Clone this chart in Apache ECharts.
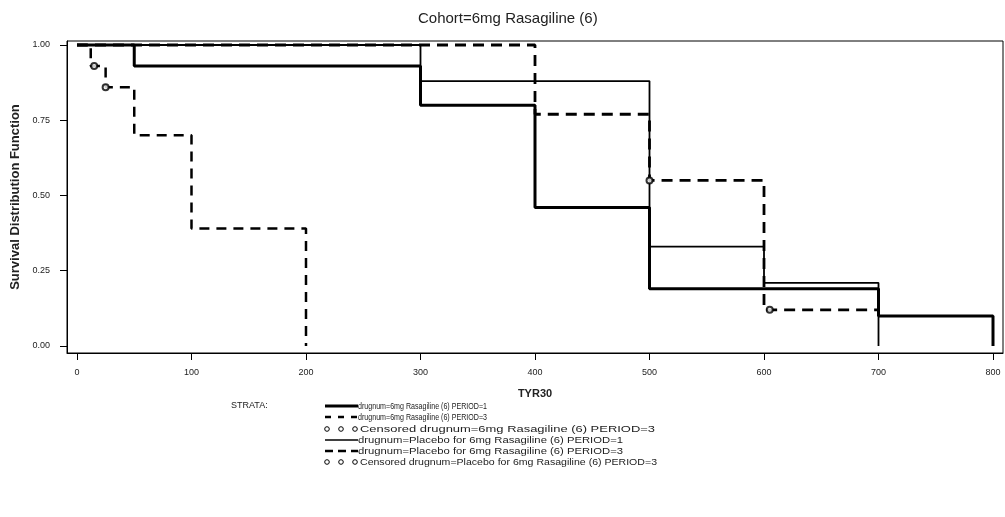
<!DOCTYPE html>
<html>
<head>
<meta charset="utf-8">
<script src="https://cdn.jsdelivr.net/npm/echarts@6/dist/echarts.min.js"></script>
<style>
  html, body { margin: 0; padding: 0; background: #fff; }
  #chart { width: 1005px; height: 517px; }
</style>
</head>
<body>
<div id="chart"></div>
<script>
// Kaplan-Meier survival estimates, Cohort = 6mg Rasagiline (6)
const xTicks = [0, 100, 200, 300, 400, 500, 600, 700, 800];
const yTicks = [0, 0.25, 0.5, 0.75, 1];

// drugnum=6mg Rasagiline (6) PERIOD=1
const timeRasP1 = [0, 50, 300, 400, 500, 700, 800];
const survRasP1 = [1, 0.93, 0.80, 0.46, 0.19, 0.10, 0];

// drugnum=6mg Rasagiline (6) PERIOD=3
const timeRasP3 = [0, 12, 25, 50, 100, 200];
const survRasP3 = [1, 0.93, 0.86, 0.70, 0.39, 0];
const censTimeRasP3 = [15, 25];
const censSurvRasP3 = [0.93, 0.86];

// drugnum=Placebo for 6mg Rasagiline (6) PERIOD=1
const timePlaP1 = [0, 300, 500, 600, 700];
const survPlaP1 = [1, 0.88, 0.33, 0.21, 0];

// drugnum=Placebo for 6mg Rasagiline (6) PERIOD=3
const timePlaP3 = [0, 400, 500, 600, 700];
const survPlaP3 = [1, 0.77, 0.55, 0.12, 0.12];
const censTimePlaP3 = [500, 605];
const censSurvPlaP3 = [0.55, 0.12];

const legendLabels = [
  'drugnum=6mg Rasagiline (6) PERIOD=1',
  'drugnum=6mg Rasagiline (6) PERIOD=3',
  'Censored drugnum=6mg Rasagiline (6) PERIOD=3',
  'drugnum=Placebo for 6mg Rasagiline (6) PERIOD=1',
  'drugnum=Placebo for 6mg Rasagiline (6) PERIOD=3',
  'Censored drugnum=Placebo for 6mg Rasagiline (6) PERIOD=3'
];

const zip = (xs, ys) => xs.map((x, i) => [x, ys[i]]);

const FONT = '"Liberation Sans", Arial, sans-serif';
const INK = '#000';
const TEXT = '#222';
const LEGEND_FONT = '9.5px ' + FONT;

// width of a string in the legend font, used to fit each label into its slot
const measureCtx = document.createElement('canvas').getContext('2d');
measureCtx.font = LEGEND_FONT;
const textWidth = s => measureCtx.measureText(s).width;

// legend block: symbols drawn as small shapes, labels as text
const legendRowsY = [406, 417, 429, 440, 451, 462];
const legendTextStart = [358, 358, 360, 358, 358, 360];
const legendTextEnd = [487, 487, 655, 623, 623, 657];
const symX0 = 325, symX1 = 358;
const legendGraphics = [{
  type: 'text', x: 231, y: legendRowsY[0],
  style: { text: 'STRATA:', font: '9px ' + FONT, fill: TEXT, verticalAlign: 'middle', textVerticalAlign: 'middle' }
}];
legendRowsY.forEach((y, i) => {
  if (i === 0 || i === 3) {
    legendGraphics.push({
      type: 'line',
      shape: { x1: symX0, y1: y, x2: symX1, y2: y },
      style: { stroke: INK, lineWidth: i === 0 ? 3 : 1.5 }
    });
  } else if (i === 1 || i === 4) {
    legendGraphics.push({
      type: 'line',
      shape: { x1: symX0, y1: y, x2: symX1, y2: y },
      style: { stroke: INK, lineWidth: 2.5, lineDash: i === 1 ? [6, 7] : [8, 5] }
    });
  } else {
    [327, 341, 355].forEach(cx => legendGraphics.push({
      type: 'circle',
      shape: { cx: cx, cy: y, r: 2.3 },
      style: { fill: 'none', stroke: INK, lineWidth: 1 }
    }));
  }
  const w = textWidth(legendLabels[i]);
  legendGraphics.push({
    type: 'text',
    x: legendTextStart[i], y: y,
    scaleX: (legendTextEnd[i] - legendTextStart[i]) / w,
    style: {
      text: legendLabels[i], font: LEGEND_FONT, fill: TEXT,
      verticalAlign: 'middle', textVerticalAlign: 'middle'
    }
  });
});

const chart = echarts.init(document.getElementById('chart'), null, { renderer: 'canvas' });

chart.setOption({
  backgroundColor: '#fff',
  animation: false,
  title: {
    text: 'Cohort=6mg Rasagiline (6)',
    left: 413, top: 6,
    textStyle: { fontFamily: FONT, fontSize: 15, fontWeight: 'normal', color: TEXT }
  },
  grid: {
    left: 67, top: 41, width: 936, height: 312,
    show: true, borderColor: INK, borderWidth: 1, backgroundColor: 'transparent'
  },
  xAxis: {
    type: 'value',
    min: -8.73, max: 808.73,
    name: 'TYR30',
    nameLocation: 'middle',
    nameGap: 35,
    nameTextStyle: { fontFamily: FONT, fontSize: 11, fontWeight: 'bold', color: TEXT },
    axisLine: { show: true, onZero: false, lineStyle: { color: INK, width: 1 } },
    axisTick: { show: true, customValues: xTicks, length: 7, lineStyle: { color: INK } },
    axisLabel: {
      customValues: xTicks, margin: 15,
      fontFamily: FONT, fontSize: 9, color: TEXT,
      formatter: v => String(Math.round(v))
    },
    splitLine: { show: false }
  },
  yAxis: {
    type: 'value',
    min: -0.0233, max: 1.0133,
    name: 'Survival Distribution Function',
    nameLocation: 'middle',
    nameRotate: 90,
    nameGap: 44,
    nameTextStyle: { fontFamily: FONT, fontSize: 13, fontWeight: 'bold', color: TEXT },
    axisLine: { show: true, onZero: false, lineStyle: { color: INK, width: 1 } },
    axisTick: { show: true, customValues: yTicks, length: 7, lineStyle: { color: INK } },
    axisLabel: {
      customValues: yTicks, margin: 17,
      fontFamily: FONT, fontSize: 9, color: TEXT,
      formatter: v => v.toFixed(2)
    },
    splitLine: { show: false }
  },
  series: [
    {
      name: legendLabels[0], type: 'line', step: 'end', showSymbol: false,
      data: zip(timeRasP1, survRasP1),
      lineStyle: { color: INK, width: 3 }, z: 3
    },
    {
      name: legendLabels[1], type: 'line', step: 'end', showSymbol: false,
      data: zip(timeRasP3, survRasP3),
      lineStyle: { color: INK, width: 2.5, type: [10, 7] }, z: 2
    },
    {
      name: legendLabels[2], type: 'scatter',
      data: zip(censTimeRasP3, censSurvRasP3),
      symbol: 'emptyCircle', symbolSize: 6,
      itemStyle: { color: INK, borderColor: INK, borderWidth: 1.2 }, z: 4
    },
    {
      name: legendLabels[3], type: 'line', step: 'end', showSymbol: false,
      data: zip(timePlaP1, survPlaP1),
      lineStyle: { color: INK, width: 1.8 }, z: 3
    },
    {
      name: legendLabels[4], type: 'line', step: 'end', showSymbol: false,
      data: zip(timePlaP3, survPlaP3),
      lineStyle: { color: INK, width: 2.8, type: [11, 7] }, z: 2
    },
    {
      name: legendLabels[5], type: 'scatter',
      data: zip(censTimePlaP3, censSurvPlaP3),
      symbol: 'emptyCircle', symbolSize: 6,
      itemStyle: { color: INK, borderColor: INK, borderWidth: 1.2 }, z: 4
    }
  ],
  graphic: legendGraphics
});
</script>
</body>
</html>
